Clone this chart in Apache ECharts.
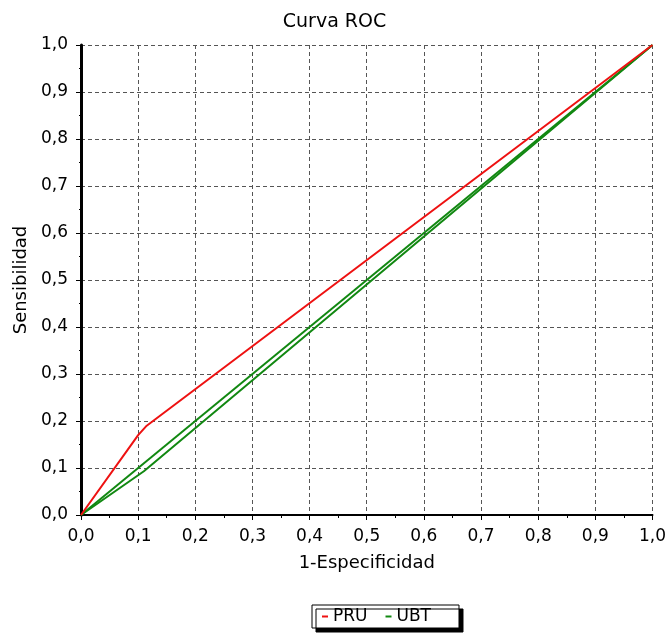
<!DOCTYPE html>
<html><head><meta charset="utf-8">
<script src="https://cdn.jsdelivr.net/npm/echarts@6/dist/echarts.min.js"></script>
<style>html,body{margin:0;padding:0;background:#fff}#c{width:669px;height:639px}</style>
</head><body><div id="c"></div>
<script>
const titleText = 'Curva ROC';
const xName = '1-Especificidad';
const yName = 'Sensibilidad';
const pruX = [0, 0.10, 0.115, 1];
const pruY = [0, 0.17, 0.19, 1];
const ubtX = [0, 0.11, 1];
const ubtY = [0, 0.093, 1];
const refX = [0, 1];
const refY = [0, 1];
const seriesNames = ['PRU', 'UBT'];

const pair = (xs, ys) => xs.map((x, i) => [x, ys[i]]);
const fmt = v => v.toFixed(1).replace('.', ',');
const font = 'DejaVu Sans';

const chart = echarts.init(document.getElementById('c'));
chart.setOption({
  animation: false,
  backgroundColor: '#fff',
  title: { text: titleText, left: 'center', top: 8, textStyle: { fontFamily: font, fontSize: 19, fontWeight: 'normal', color: '#000' } },
  grid: { left: 81, right: 13, top: 45, bottom: 124 },
  legend: {
    data: seriesNames, bottom: 11, left: 312, icon: 'rect', itemWidth: 6, itemHeight: 2, itemGap: 18,
    padding: [3, 28, 3, 10],
    backgroundColor: '#fff', borderColor: '#000', borderWidth: 1,
    shadowColor: '#000', shadowOffsetX: 4, shadowOffsetY: 4, shadowBlur: 0,
    textStyle: { fontFamily: font, fontSize: 17, color: '#000' }
  },
  xAxis: {
    type: 'value', min: 0, max: 1, interval: 0.1,
    name: xName, nameLocation: 'middle', nameGap: 39,
    nameTextStyle: { fontFamily: font, fontSize: 18, color: '#000' },
    axisLine: { lineStyle: { color: '#000', width: 2 } },
    axisTick: { show: true, length: 5, lineStyle: { color: '#000' } },
    minorTick: { show: true, splitNumber: 2, length: 3, lineStyle: { color: '#000' } },
    axisLabel: { formatter: fmt, margin: 13, fontFamily: font, fontSize: 17, color: '#000' },
    splitLine: { show: true, lineStyle: { color: '#555', type: [4, 3], width: 1 } }
  },
  yAxis: {
    type: 'value', min: 0, max: 1, interval: 0.1,
    name: yName, nameLocation: 'middle', nameGap: 49,
    nameTextStyle: { fontFamily: font, fontSize: 18, color: '#000' },
    axisLine: { show: true, lineStyle: { color: '#000', width: 3 } },
    axisTick: { show: true, length: 5, lineStyle: { color: '#000' } },
    minorTick: { show: true, splitNumber: 2, length: 2, lineStyle: { color: '#000' } },
    axisLabel: { formatter: fmt, margin: 13, fontFamily: font, fontSize: 17, color: '#000' },
    splitLine: { show: true, lineStyle: { color: '#555', type: [4, 3], width: 1 } }
  },
  series: [
    { name: 'ref', type: 'line', data: pair(refX, refY), showSymbol: false, lineStyle: { color: '#118811', width: 2 }, itemStyle: { color: '#118811' }, z: 2 },
    { name: 'UBT', type: 'line', data: pair(ubtX, ubtY), showSymbol: false, lineStyle: { color: '#118811', width: 2 }, itemStyle: { color: '#118811' }, z: 3 },
    { name: 'PRU', type: 'line', data: pair(pruX, pruY), showSymbol: false, lineStyle: { color: '#ee1111', width: 2 }, itemStyle: { color: '#ee1111' }, z: 4 }
  ]
});
</script></body></html>
